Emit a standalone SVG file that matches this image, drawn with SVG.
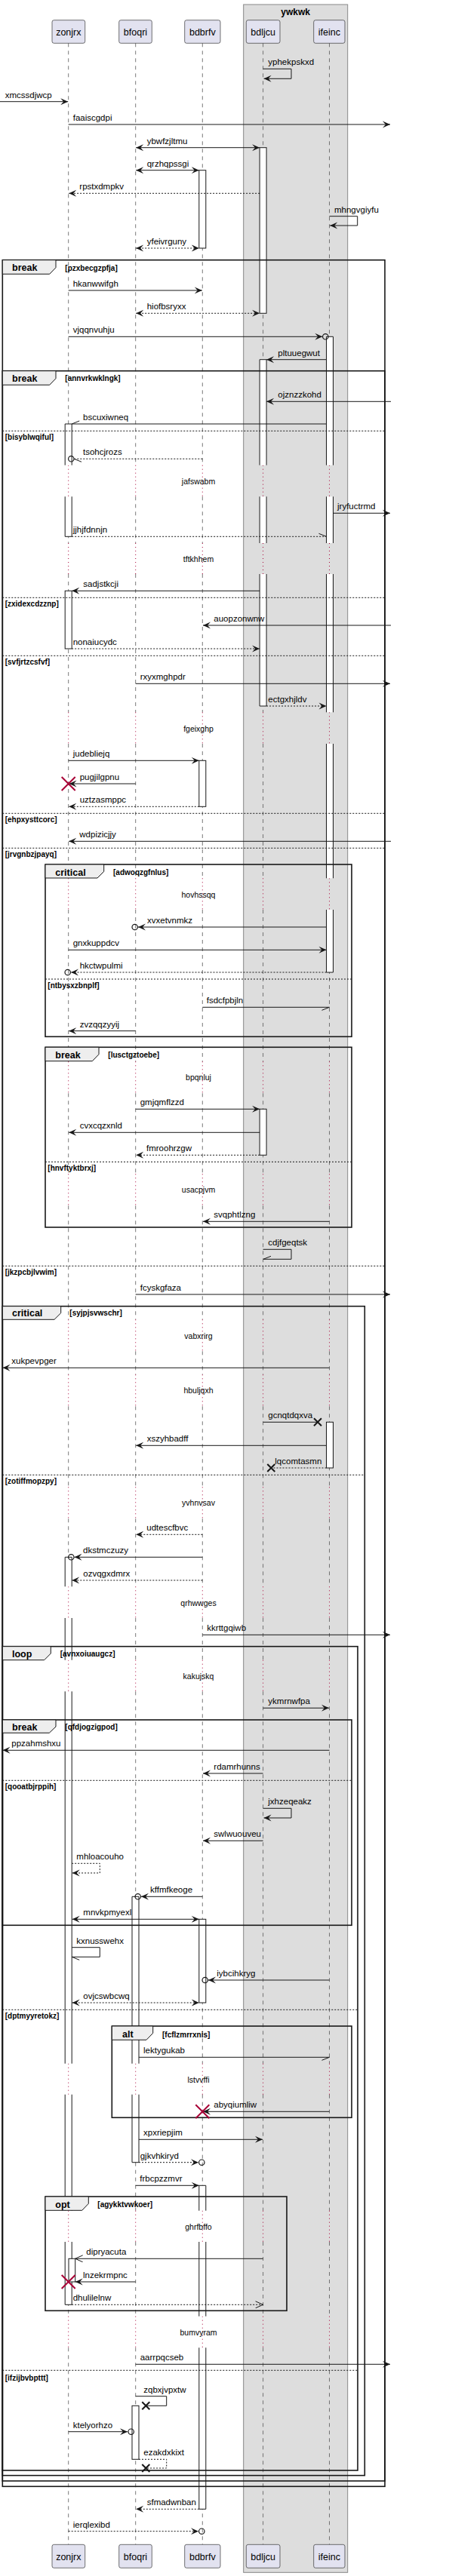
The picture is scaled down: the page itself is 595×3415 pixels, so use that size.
<svg xmlns="http://www.w3.org/2000/svg" width="595" height="3415" viewBox="0 0 595 3415">
<style>
text{font-family:"Liberation Sans",Arial,sans-serif;fill:#000}
.pb{fill:#E2E2F0;stroke:#181818;stroke-width:.6}
.pt{font-size:12.5px;text-anchor:middle}
.bx{fill:#DDDDDD;stroke:#888;stroke-width:1}
.bt{font-size:12px;font-weight:bold;text-anchor:middle}
.ll{fill:none;stroke:#555;stroke-width:.8;stroke-dasharray:5 5}
.lp{fill:none;stroke:#A80036;stroke-width:1;stroke-dasharray:1 4}
.ac{fill:#fff;stroke:#181818;stroke-width:1}
.af{fill:#fff;stroke:none}
.ao{fill:none;stroke:#181818;stroke-width:1}
.fr{fill:none;stroke:#181818;stroke-width:1.6}
.tab{fill:#EEEEEE;stroke:#181818;stroke-width:1}
.gt{font-size:12.5px;font-weight:bold}
.gc{font-size:10px;font-weight:bold}
.sep{fill:none;stroke:#181818;stroke-width:1;stroke-dasharray:2 2}
.m{fill:none;stroke:#181818;stroke-width:1}
.d{stroke-dasharray:2 2}
.ml{font-size:11.5px}
.dt{font-size:10.5px;text-anchor:middle}
.ci{fill:none;stroke:#181818;stroke-width:1.2}
.xr{stroke:#A80036;stroke-width:2}
.xb{stroke:#181818;stroke-width:2}
</style>
<defs>
<marker id="af" viewBox="-11 -5 12 10" refX="0" refY="0" markerWidth="12" markerHeight="10" markerUnits="userSpaceOnUse" orient="auto-start-reverse"><path d="M0,0 L-10,-4.5 L-6,0 L-10,4.5Z" fill="#181818"/></marker>
<marker id="ao" viewBox="-11 -5 12 10" refX="0" refY="0" markerWidth="12" markerHeight="10" markerUnits="userSpaceOnUse" orient="auto"><path d="M-10,-4.5 L0,0 L-10,4.5" fill="none" stroke="#181818" stroke-width="1"/></marker>
<marker id="hA" viewBox="-11 -5 12 10" refX="0" refY="0" markerWidth="12" markerHeight="10" markerUnits="userSpaceOnUse" orient="auto"><path d="M-10,-4 L0,0" fill="none" stroke="#181818" stroke-width="1"/></marker>
<marker id="hB" viewBox="-11 -5 12 10" refX="0" refY="0" markerWidth="12" markerHeight="10" markerUnits="userSpaceOnUse" orient="auto"><path d="M-10,4 L0,0" fill="none" stroke="#181818" stroke-width="1"/></marker>
<path id="llD" d="M0,57.3V616.7M0,658.3V720M0,761V944.3M0,986V1164.3M0,1206V1407.3M0,1449.3V1556.3M0,1598.3V1749.3M0,1791.3V1822.3M0,1864.3V1971.3M0,2013.3V2103.3M0,2145V2200.7M0,2242.3V2735.7M0,2776.7V2930.7M0,2972V3070.7M0,3112.3V3373.3"/>
<path id="llP" d="M0,616.7V658.3M0,720V761M0,944.3V986M0,1164.3V1206M0,1407.3V1449.3M0,1556.3V1598.3M0,1749.3V1791.3M0,1822.3V1864.3M0,1971.3V2013.3M0,2103.3V2145M0,2200.7V2242.3M0,2735.7V2776.7M0,2930.7V2972M0,3070.7V3112.3"/>
</defs>

<g id="box-ywkwk">
<rect class="bx" x="322.7" y="6" width="138" height="3404.3"/>
<text class="bt" x="391.7" y="19.5">ywkwk</text>
</g>

<g id="p-zonjrx">
<use href="#llD" x="90.7" class="ll"/><use href="#llP" x="90.7" class="lp"/>
<rect class="pb" x="69" y="26.7" width="43.7" height="30.6" rx="2.5"/><text class="pt" x="90.85" y="47.3">zonjrx</text>
<rect class="pb" x="69" y="3373.3" width="43.7" height="31" rx="2.5"/><text class="pt" x="90.85" y="3394.3">zonjrx</text>
<rect class="af" x="86.2" y="562" width="9" height="54.7"/><rect class="af" x="86.2" y="658.3" width="9" height="53"/>
<path class="ao" d="M86.2,616.7V562H95.2V616.7M86.2,658.3V711.3H95.2V658.3"/>
<rect class="ac" x="86.2" y="783.3" width="9" height="76.7"/>
<rect class="af" x="86.2" y="2064.3" width="9" height="39"/><rect class="af" x="86.2" y="2145" width="9" height="55.7"/><rect class="af" x="86.2" y="2242.3" width="9" height="493.4"/><rect class="af" x="86.2" y="2776.7" width="9" height="154"/><rect class="af" x="86.2" y="2972" width="9" height="83.3"/>
<path class="ao" d="M86.2,2103.3V2064.3H95.2V2103.3M86.2,2145V2200.7M95.2,2145V2200.7M86.2,2242.3V2735.7M95.2,2242.3V2735.7M86.2,2776.7V2930.7M95.2,2776.7V2930.7M86.2,2972V3055.3H95.2V2972"/>
<rect class="ac" x="91" y="2994.3" width="8.7" height="30.7"/>
</g>

<g id="p-bfoqri">
<use href="#llD" x="179.7" class="ll"/><use href="#llP" x="179.7" class="lp"/>
<rect class="pb" x="157.7" y="26.7" width="43.6" height="30.6" rx="2.5"/><text class="pt" x="179.5" y="47.3">bfoqri</text>
<rect class="pb" x="157.7" y="3373.3" width="43.6" height="31" rx="2.5"/><text class="pt" x="179.5" y="3394.3">bfoqri</text>
<rect class="af" x="175" y="2514.3" width="9" height="221.4"/><rect class="af" x="175" y="2776.7" width="9" height="90"/>
<path class="ao" d="M175,2735.7V2514.3H184V2735.7M175,2776.7V2866.7H184V2776.7"/>
<rect class="ac" x="175" y="3189.3" width="9" height="71"/>
</g>

<g id="p-bdbrfv">
<use href="#llD" x="268.3" class="ll"/><use href="#llP" x="268.3" class="lp"/>
<rect class="pb" x="244.7" y="26.7" width="47.3" height="30.6" rx="2.5"/><text class="pt" x="268.35" y="47.3">bdbrfv</text>
<rect class="pb" x="244.7" y="3373.3" width="47.3" height="31" rx="2.5"/><text class="pt" x="268.35" y="3394.3">bdbrfv</text>
<rect class="ac" x="263.8" y="225.7" width="9" height="103.3"/>
<rect class="ac" x="263.8" y="1008.3" width="9" height="61"/>
<rect class="ac" x="263.8" y="2544.3" width="9" height="110.7"/>
<rect class="af" x="263.8" y="2897.3" width="9" height="33.4"/><rect class="af" x="263.8" y="2972" width="9" height="98.7"/><rect class="af" x="263.8" y="3112.3" width="9" height="214"/>
<path class="ao" d="M263.8,2930.7V2897.3H272.8V2930.7M263.8,2972V3070.7M272.8,2972V3070.7M263.8,3112.3V3326.3H272.8V3112.3"/>
</g>

<g id="p-bdljcu">
<use href="#llD" x="348.6" class="ll"/><use href="#llP" x="348.6" class="lp"/>
<rect class="pb" x="326.3" y="26.7" width="44.7" height="30.6" rx="2.5"/><text class="pt" x="348.65" y="47.3">bdljcu</text>
<rect class="pb" x="326.3" y="3373.3" width="44.7" height="31" rx="2.5"/><text class="pt" x="348.65" y="3394.3">bdljcu</text>
<rect class="ac" x="344.1" y="195.7" width="9" height="219.6"/>
<rect class="af" x="344.1" y="476.7" width="9" height="140"/><rect class="af" x="344.1" y="658.3" width="9" height="61.7"/><rect class="af" x="344.1" y="761" width="9" height="175"/>
<path class="ao" d="M344.1,616.7V476.7H353.1V616.7M344.1,658.3V720M353.1,658.3V720M344.1,761V936H353.1V761"/>
<rect class="ac" x="344.1" y="1470.3" width="9" height="61"/>
</g>

<g id="p-ifeinc">
<use href="#llD" x="436.5" class="ll"/><use href="#llP" x="436.5" class="lp"/>
<rect class="pb" x="415.7" y="26.7" width="41.3" height="30.6" rx="2.5"/><text class="pt" x="436.35" y="47.3">ifeinc</text>
<rect class="pb" x="415.7" y="3373.3" width="41.3" height="31" rx="2.5"/><text class="pt" x="436.35" y="3394.3">ifeinc</text>
<rect class="af" x="432.5" y="446.3" width="9" height="170.4"/><rect class="af" x="432.5" y="658.3" width="9" height="61.7"/><rect class="af" x="432.5" y="761" width="9" height="183.3"/><rect class="af" x="432.5" y="986" width="9" height="178.3"/><rect class="af" x="432.5" y="1206" width="9" height="83"/>
<path class="ao" d="M432.5,616.7V446.3H441.5V616.7M432.5,658.3V720M441.5,658.3V720M432.5,761V944.3M441.5,761V944.3M432.5,986V1164.3M441.5,986V1164.3M432.5,1206V1289H441.5V1206"/>
<rect class="ac" x="432.5" y="1885.3" width="9" height="60.7"/>
</g>

<g id="frames">
<g id="g-pzxbecgzpfja"><rect class="fr" x="3.3" y="344.7" width="506.7" height="2951.6"/><path class="tab" d="M3.3,344.7H74V354.7L65.7,363.3H3.3Z"/><text class="gt" x="16" y="359">break</text><text class="gc" x="86.3" y="358.5">[pzxbecgzpfja]</text></g>
<g id="g-annvrkwklngk"><rect class="fr" x="3.3" y="491.7" width="506.7" height="2797.3"/><path class="tab" d="M3.3,491.7H74V501.7L65.7,510.3H3.3Z"/><text class="gt" x="16" y="505.8">break</text><text class="gc" x="86.3" y="505.3">[annvrkwklngk]</text>
<path class="sep" d="M3.3,571.3H510M3.3,792.3H510M3.3,869.3H510M3.3,1078.3H510M3.3,1124.3H510M3.3,1678.3H510"/>
<text class="gc" x="6.7" y="583">[bisyblwqiful]</text><text class="gc" x="6.7" y="804">[zxidexcdzznp]</text><text class="gc" x="6.7" y="880.5">[svfjrtzcsfvf]</text><text class="gc" x="6.7" y="1090">[ehpxysttcorc]</text><text class="gc" x="6.7" y="1136">[jrvgnbzjpayq]</text><text class="gc" x="6.7" y="1690">[jkzpcbjlvwim]</text></g>
<g id="g-adwoqzgfnlus"><rect class="fr" x="60" y="1146" width="406" height="228.3"/><path class="tab" d="M60,1146H137.7V1155.3L129,1164H60Z"/><text class="gt" x="73.3" y="1160.6">critical</text><text class="gc" x="150" y="1160.3">[adwoqzgfnlus]</text>
<path class="sep" d="M60,1298H466"/><text class="gc" x="63.3" y="1309.8">[ntbysxzbnplf]</text></g>
<g id="g-lusctgztoebe"><rect class="fr" x="60" y="1388.3" width="406" height="238.7"/><path class="tab" d="M60,1388.3H131V1397.7L122.3,1406.7H60Z"/><text class="gt" x="73.3" y="1402.6">break</text><text class="gc" x="143.3" y="1402.3">[lusctgztoebe]</text>
<path class="sep" d="M60,1540.3H466"/><text class="gc" x="63.3" y="1552">[hnvftyktbrxj]</text></g>
<g id="g-syjpjsvwschr"><rect class="fr" x="3.3" y="1731.7" width="480" height="1550"/><path class="tab" d="M3.3,1731.7H80.7V1740.7L72,1749.3H3.3Z"/><text class="gt" x="16" y="1744.8">critical</text><text class="gc" x="92.3" y="1744.3">[syjpjsvwschr]</text>
<path class="sep" d="M3.3,1955.3H483.3"/><text class="gc" x="6.7" y="1967">[zotiffmopzpy]</text></g>
<g id="g-avnxoiuaugcz"><rect class="fr" x="3.3" y="2182.7" width="470.7" height="1092.3"/><path class="tab" d="M3.3,2182.7H67.3V2192L58.7,2200.7H3.3Z"/><text class="gt" x="16" y="2196.6">loop</text><text class="gc" x="79.7" y="2196.3">[avnxoiuaugcz]</text>
<path class="sep" d="M3.3,2664.3H474M3.3,3142.3H474"/><text class="gc" x="6.7" y="2676">[dptmyyretokz]</text><text class="gc" x="6.7" y="3155.5">[ifzijbvbpttt]</text></g>
<g id="g-qfdjogzigpod"><rect class="fr" x="3.3" y="2280" width="462.7" height="272.3"/><path class="tab" d="M3.3,2280H74V2289L65.3,2297.3H3.3Z"/><text class="gt" x="16" y="2293.8">break</text><text class="gc" x="86.3" y="2293.3">[qfdjogzigpod]</text>
<path class="sep" d="M3.3,2360.3H466"/><text class="gc" x="6.7" y="2372">[qooatbjrppih]</text></g>
<g id="g-fcflzmrrxnis"><rect class="fr" x="148.3" y="2686" width="317.7" height="121.3"/><path class="tab" d="M148.3,2686H202.7V2695.3L194,2704.3H148.3Z"/><text class="gt" x="162" y="2701">alt</text><text class="gc" x="215" y="2700.5">[fcflzmrrxnis]</text></g>
<g id="g-agykktvwkoer"><rect class="fr" x="60" y="2912" width="320" height="151.3"/><path class="tab" d="M60,2912H117.3V2921.3L108.7,2930.3H60Z"/><text class="gt" x="73.3" y="2926.6">opt</text><text class="gc" x="129.3" y="2926.3">[agykktvwkoer]</text></g>
</g>

<g id="delays">
<text class="dt" x="263" y="641.8">jafswabm</text>
<text class="dt" x="263" y="744.8">tftkhhem</text>
<text class="dt" x="263" y="969.8">fgeixghp</text>
<text class="dt" x="263" y="1189.5">hovhssqq</text>
<text class="dt" x="263" y="1431.8">bpqnluj</text>
<text class="dt" x="263" y="1580.8">usacpjvm</text>
<text class="dt" x="263" y="1774.8">vabxrirg</text>
<text class="dt" x="263" y="1846.8">hbuljqxh</text>
<text class="dt" x="263" y="1995.8">yvhnvsav</text>
<text class="dt" x="263" y="2128.5">qrhwwges</text>
<text class="dt" x="263" y="2225.8">kakujskq</text>
<text class="dt" x="263" y="2760.5">lstvvffi</text>
<text class="dt" x="263" y="2955.8">ghrfbffo</text>
<text class="dt" x="263" y="3095.8">bumvyram</text>
</g>

<g id="connectors">
<path class="m" d="M348.6,91.3H386V104.3H349.6" marker-end="url(#af)"/><text class="ml" x="355.3" y="86.3">yphekpskxd</text>
<path class="m" d="M0,134.7H90.2" marker-end="url(#af)"/><text class="ml" x="6.7" y="129.7">xmcssdjwcp</text>
<path class="m" d="M90.7,165H517" marker-end="url(#af)"/><text class="ml" x="96.7" y="160">faaiscgdpi</text>
<path class="m" d="M180.2,195.7H344.1" marker-start="url(#af)" marker-end="url(#af)"/><text class="ml" x="194.7" y="190.7">ybwfzjltmu</text>
<path class="m" d="M180.2,225.7H263.8" marker-start="url(#af)" marker-end="url(#af)"/><text class="ml" x="194.7" y="220.7">qrzhqpssgi</text>
<path class="m d" d="M344.1,256.3H91.2" marker-end="url(#af)"/><text class="ml" x="105.3" y="251.3">rpstxdmpkv</text>
<path class="m" d="M436.5,286.7H473.7V299H437.2" marker-end="url(#af)"/><text class="ml" x="443" y="281.7">mhngvgiyfu</text>
<path class="m d" d="M180.2,329H263.8" marker-start="url(#af)" marker-end="url(#af)"/><text class="ml" x="194.7" y="324">yfeivrguny</text>
<path class="m" d="M90.7,385H267.8" marker-end="url(#af)"/><text class="ml" x="96.7" y="380">hkanwwifgh</text>
<path class="m d" d="M180.2,415.3H344.1" marker-start="url(#af)" marker-end="url(#af)"/><text class="ml" x="194.7" y="410.3">hiofbsryxx</text>
<path class="m" d="M90.7,446.3H427.3" marker-end="url(#af)"/><circle class="ci" cx="431.3" cy="446.3" r="3.7"/><text class="ml" x="96.7" y="441.3">vjqqnvuhju</text>
<path class="m" d="M432.5,476.7H353.1" marker-end="url(#af)"/><text class="ml" x="368.3" y="471.7">pltuuegwut</text>
<path class="m" d="M518,532.3H353.1" marker-end="url(#af)"/><text class="ml" x="368.3" y="527.3">ojznzzkohd</text>
<path class="m" d="M432.5,562H95.2" marker-end="url(#hB)"/><text class="ml" x="110" y="557">bscuxiwneq</text>
<path class="m d" d="M268.3,608.3H98" marker-end="url(#hA)"/><circle class="ci" cx="94.3" cy="608.3" r="3.7"/><text class="ml" x="110" y="603.3">tsohcjrozs</text>
<path class="m" d="M441.5,680.3H517" marker-end="url(#af)"/><text class="ml" x="447" y="675.3">jryfuctrmd</text>
<path class="m d" d="M95.2,711.3H432.5" marker-end="url(#hA)"/><text class="ml" x="96.7" y="706.3">jjhjfdnnjn</text>
<path class="m" d="M344.1,783.3H95.2" marker-end="url(#af)"/><text class="ml" x="110.3" y="778.3">sadjstkcji</text>
<path class="m" d="M518,829H269" marker-end="url(#af)"/><text class="ml" x="283.3" y="824">auopzonwnw</text>
<path class="m d" d="M95.2,860H344.1" marker-end="url(#af)"/><text class="ml" x="96.7" y="855">nonaiucydc</text>
<path class="m" d="M179.7,906.3H517" marker-end="url(#af)"/><text class="ml" x="185.7" y="901.3">rxyxmghpdr</text>
<path class="m d" d="M353.1,936H432.5" marker-end="url(#af)"/><text class="ml" x="355.3" y="931">ectgxhjldv</text>
<path class="m" d="M90.7,1008.3H263.8" marker-end="url(#af)"/><text class="ml" x="96.7" y="1003.3">judebliejq</text>
<path class="m" d="M179.7,1039H91.5" marker-end="url(#af)"/><path class="xr" d="M81.7,1030L99.7,1048M81.7,1048L99.7,1030"/><text class="ml" x="105.7" y="1034">pugjilgpnu</text>
<path class="m d" d="M263.8,1069.3H91.2" marker-end="url(#af)"/><text class="ml" x="105.7" y="1064.3">uztzasmppc</text>
<path class="m" d="M518,1115.3H91.2" marker-end="url(#af)"/><text class="ml" x="105.3" y="1110.3">wdpizicjjy</text>
<path class="m" d="M432.5,1229H183" marker-end="url(#af)"/><circle class="ci" cx="178.7" cy="1229" r="3.7"/><text class="ml" x="195" y="1224">xvxetvnmkz</text>
<path class="m" d="M90.7,1259.3H432.5" marker-end="url(#af)"/><text class="ml" x="96.7" y="1254.3">gnxkuppdcv</text>
<path class="m d" d="M432.5,1289H94" marker-end="url(#af)"/><circle class="ci" cx="89.7" cy="1289" r="3.7"/><text class="ml" x="105.7" y="1284">hkctwpulmi</text>
<path class="m" d="M268.3,1335.3H436.5" marker-end="url(#hB)"/><text class="ml" x="273.7" y="1330.3">fsdcfpbjln</text>
<path class="m" d="M179.7,1366.7H91.2" marker-end="url(#af)"/><text class="ml" x="105.7" y="1361.7">zvzqqzyyij</text>
<path class="m" d="M179.7,1470.3H344.1" marker-end="url(#af)"/><text class="ml" x="185.7" y="1465.3">gmjqmflzzd</text>
<path class="m" d="M344.1,1501.3H91.2" marker-end="url(#af)"/><text class="ml" x="105.7" y="1496.3">cvxcqzxnld</text>
<path class="m d" d="M344.1,1531.3H180.2" marker-end="url(#af)"/><text class="ml" x="194" y="1526.3">fmroohrzgw</text>
<path class="m" d="M436.5,1619.3H269" marker-end="url(#af)"/><text class="ml" x="283.3" y="1614.3">svqphtlzng</text>
<path class="m" d="M348.6,1656.3H386V1669.3H349" marker-end="url(#hB)"/><text class="ml" x="355.3" y="1651.3">cdjfgeqtsk</text>
<path class="m" d="M179.7,1716H517" marker-end="url(#af)"/><text class="ml" x="185.7" y="1711">fcyskgfaza</text>
<path class="m" d="M436.5,1813.3H3.5" marker-end="url(#af)"/><text class="ml" x="15.3" y="1808.3">xukpevpger</text>
<path class="m" d="M348.6,1885.3H421"/><path class="xb" d="M416,1880.3L426,1890.3M416,1890.3L426,1880.3"/><text class="ml" x="355.3" y="1880.3">gcnqtdqxva</text>
<path class="m" d="M432.5,1916.3H180.2" marker-end="url(#af)"/><text class="ml" x="194.7" y="1911.3">xszyhbadff</text>
<path class="m d" d="M432.5,1946H359.3"/><path class="xb" d="M354.3,1941L364.3,1951M354.3,1951L364.3,1941"/><text class="ml" x="364.3" y="1941">lqcomtasmn</text>
<path class="m d" d="M268.3,2034.3H180.2" marker-end="url(#af)"/><text class="ml" x="194.3" y="2029.3">udtescfbvc</text>
<path class="m" d="M268.3,2064.3H98.5" marker-end="url(#af)"/><circle class="ci" cx="94.3" cy="2064.3" r="3.7"/><text class="ml" x="110" y="2059.3">dkstmczuzy</text>
<path class="m d" d="M268.3,2095H95.2" marker-end="url(#af)"/><text class="ml" x="110.3" y="2090">ozvqgxdmrx</text>
<path class="m" d="M268.3,2167.3H517" marker-end="url(#af)"/><text class="ml" x="274.3" y="2162.3">kkrttgqiwb</text>
<path class="m" d="M348.6,2264.3H436" marker-end="url(#af)"/><text class="ml" x="355.3" y="2259.3">ykmrnwfpa</text>
<path class="m" d="M436.5,2320.3H3.5" marker-end="url(#af)"/><text class="ml" x="15.3" y="2315.3">ppzahmshxu</text>
<path class="m" d="M348.6,2351H269" marker-end="url(#af)"/><text class="ml" x="283.3" y="2346">rdamrhunns</text>
<path class="m" d="M348.6,2397.3H386V2410H349.6" marker-end="url(#af)"/><text class="ml" x="355.3" y="2392.3">jxhzeqeakz</text>
<path class="m" d="M348.6,2440.3H269" marker-end="url(#af)"/><text class="ml" x="283.3" y="2435.3">swlwuouveu</text>
<path class="m d" d="M95.2,2470.3H132.3V2483H95.7" marker-end="url(#af)"/><text class="ml" x="101.3" y="2465.3">mhloacouho</text>
<path class="m" d="M268.3,2514.3H187" marker-end="url(#af)"/><circle class="ci" cx="182.7" cy="2514.3" r="3.7"/><text class="ml" x="199" y="2509.3">kffmfkeoge</text>
<path class="m" d="M95.7,2544.3H263.8" marker-start="url(#af)" marker-end="url(#af)"/><text class="ml" x="110.3" y="2539.3">mnvkpmyexl</text>
<path class="m" d="M95.2,2581.7H132.3V2594.3H95.2" marker-end="url(#hA)"/><text class="ml" x="101.3" y="2576.7">kxnusswehx</text>
<path class="m" d="M436.5,2625H276" marker-end="url(#af)"/><circle class="ci" cx="271.7" cy="2625" r="3.7"/><text class="ml" x="287.3" y="2620">iybcihkryg</text>
<path class="m d" d="M95.7,2655H263.8" marker-start="url(#af)" marker-end="url(#af)"/><text class="ml" x="110.3" y="2650">ovjcswbcwq</text>
<path class="m" d="M184,2727.3H436.5" marker-end="url(#hB)"/><text class="ml" x="190" y="2722.3">lektygukab</text>
<path class="m" d="M436.5,2799.3H269" marker-end="url(#af)"/><path class="xr" d="M259.3,2790.3L277.3,2808.3M259.3,2808.3L277.3,2790.3"/><text class="ml" x="283.3" y="2794.3">abyqiumliw</text>
<path class="m" d="M184,2836.3H348" marker-end="url(#af)"/><text class="ml" x="190" y="2831.3">xpxriepjim</text>
<path class="m d" d="M184,2866.7H263" marker-end="url(#af)"/><circle class="ci" cx="267.3" cy="2866.7" r="3.7"/><text class="ml" x="185.7" y="2861.7">gjkvhkiryd</text>
<path class="m" d="M179.7,2897.3H263.8" marker-end="url(#af)"/><text class="ml" x="185.3" y="2892.3">frbcpzzmvr</text>
<path class="m" d="M348.6,2994.3H99.7" marker-end="url(#ao)"/><text class="ml" x="114.3" y="2989.3">dipryacuta</text>
<path class="m" d="M179.7,3025H99.7" marker-end="url(#af)"/><path class="xr" d="M81.7,3016L99.7,3034M81.7,3034L99.7,3016"/><text class="ml" x="110" y="3020">lnzekrmpnc</text>
<path class="m d" d="M95.2,3055.3H348.6" marker-end="url(#ao)"/><text class="ml" x="96.7" y="3050.3">dhulilelnw</text>
<path class="m" d="M179.7,3134.3H517" marker-end="url(#af)"/><text class="ml" x="185.7" y="3129.3">aarrpqcseb</text>
<path class="m" d="M179.7,3176.7H220.7V3189.3H193.3"/><path class="xb" d="M188.3,3184.3L198.3,3194.3M188.3,3194.3L198.3,3184.3"/><text class="ml" x="190.3" y="3171.7">zqbxjvpxtw</text>
<path class="m" d="M90.7,3223.7H169" marker-end="url(#af)"/><circle class="ci" cx="173.7" cy="3223.7" r="3.7"/><text class="ml" x="96.7" y="3218.7">ktelyorhzo</text>
<path class="m d" d="M184,3260.3H220.7V3272H193.3"/><path class="xb" d="M188.3,3267L198.3,3277M188.3,3277L198.3,3267"/><text class="ml" x="190.3" y="3255.3">ezakdxkixt</text>
<path class="m d" d="M263.8,3326.3H180.2" marker-end="url(#af)"/><text class="ml" x="194.7" y="3321.3">sfmadwnban</text>
<path class="m d" d="M90.7,3355.7H263" marker-end="url(#af)"/><circle class="ci" cx="267.3" cy="3355.7" r="3.7"/><text class="ml" x="96.7" y="3350.7">ierqlexibd</text>
</g>
</svg>
